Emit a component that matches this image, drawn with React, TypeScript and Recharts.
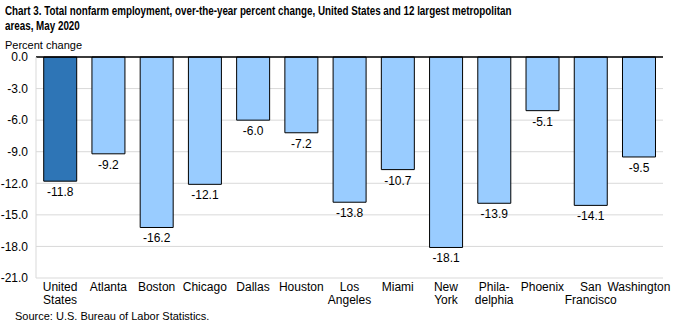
import { BarChart, Bar, XAxis, YAxis, CartesianGrid, ReferenceLine, LabelList, Cell } from "recharts";

const areas = [
  "United\nStates",
  "Atlanta",
  "Boston",
  "Chicago",
  "Dallas",
  "Houston",
  "Los\nAngeles",
  "Miami",
  "New\nYork",
  "Phila-\ndelphia",
  "Phoenix",
  "San\nFrancisco",
  "Washington",
];
const pctChange = [-11.8, -9.2, -16.2, -12.1, -6.0, -7.2, -13.8, -10.7, -18.1, -13.9, -5.1, -14.1, -9.5];
const yTicks = [0, -3, -6, -9, -12, -15, -18, -21];

const data = areas.map((name, i) => ({ name, value: pctChange[i] }));

const FONT = "'Liberation Sans', Arial, sans-serif";

function AreaTick({ x, y, payload }: any) {
  const lines = String(payload.value).split("\n");
  return (
    <text x={x} y={y} textAnchor="middle" fontSize={12} fill="#000" fontFamily={FONT}>
      {lines.map((l, i) => (
        <tspan key={i} x={x} dy={i === 0 ? 5 : 13}>
          {l}
        </tspan>
      ))}
    </text>
  );
}

function ValueLabel({ x, y, width, height, value }: any) {
  const bottom = Math.max(y, y + height);
  return (
    <text x={x + width / 2} y={bottom + 15} textAnchor="middle" fontSize={12} fill="#000" fontFamily={FONT}>
      {Number(value).toFixed(1)}
    </text>
  );
}

const titleLine: React.CSSProperties = {
  display: "block",
  whiteSpace: "nowrap",
  transform: "scaleX(0.755)",
  transformOrigin: "left",
};

export default function App() {
  return (
    <div style={{ position: "absolute", left: 0, top: 0, width: 673, height: 327, background: "#fff", fontFamily: FONT }}>
      <div
        style={{
          position: "absolute",
          left: 5,
          top: 3,
          fontWeight: "bold",
          fontSize: 13,
          lineHeight: "15px",
          color: "#000",
        }}
      >
        <span style={titleLine}>
          Chart 3. Total nonfarm employment, over-the-year percent change, United States and 12 largest metropolitan
        </span>
        <span style={titleLine}>areas, May 2020</span>
      </div>
      <div style={{ position: "absolute", left: 5, top: 39, fontSize: 11, color: "#000" }}>Percent change</div>
      <BarChart
        width={673}
        height={327}
        data={data}
        margin={{ top: 57, right: 10, left: 0, bottom: 9 }}
        barCategoryGap="16%"
        style={{ position: "absolute", left: 0, top: 0 }}
      >
        <CartesianGrid vertical={false} stroke="#D9D9D9" />
        <XAxis
          dataKey="name"
          axisLine={false}
          tickLine={false}
          interval={0}
          height={40}
          tick={<AreaTick />}
        />
        <YAxis
          domain={[-21, 0]}
          ticks={yTicks}
          width={36}
          axisLine={{ stroke: "#D9D9D9" }}
          tickLine={false}
          tick={{ fontSize: 12, fill: "#000", fontFamily: FONT }}
          tickFormatter={(v: number) => v.toFixed(1)}
        />
        <YAxis
          yAxisId="right"
          orientation="right"
          domain={[-21, 0]}
          width={0}
          axisLine={{ stroke: "#D9D9D9" }}
          tickLine={false}
          tick={false}
        />
        <Bar dataKey="value" stroke="#000" strokeWidth={1} isAnimationActive={false}>
          {data.map((d, i) => (
            <Cell key={i} fill={i === 0 ? "#2E75B6" : "#99CCFF"} />
          ))}
          <LabelList dataKey="value" content={<ValueLabel />} />
        </Bar>
        <ReferenceLine y={0} stroke="#000" strokeWidth={1.5} />
      </BarChart>
      <div style={{ position: "absolute", left: 15, top: 310, fontSize: 11, color: "#000" }}>
        Source: U.S. Bureau of Labor Statistics.
      </div>
    </div>
  );
}
